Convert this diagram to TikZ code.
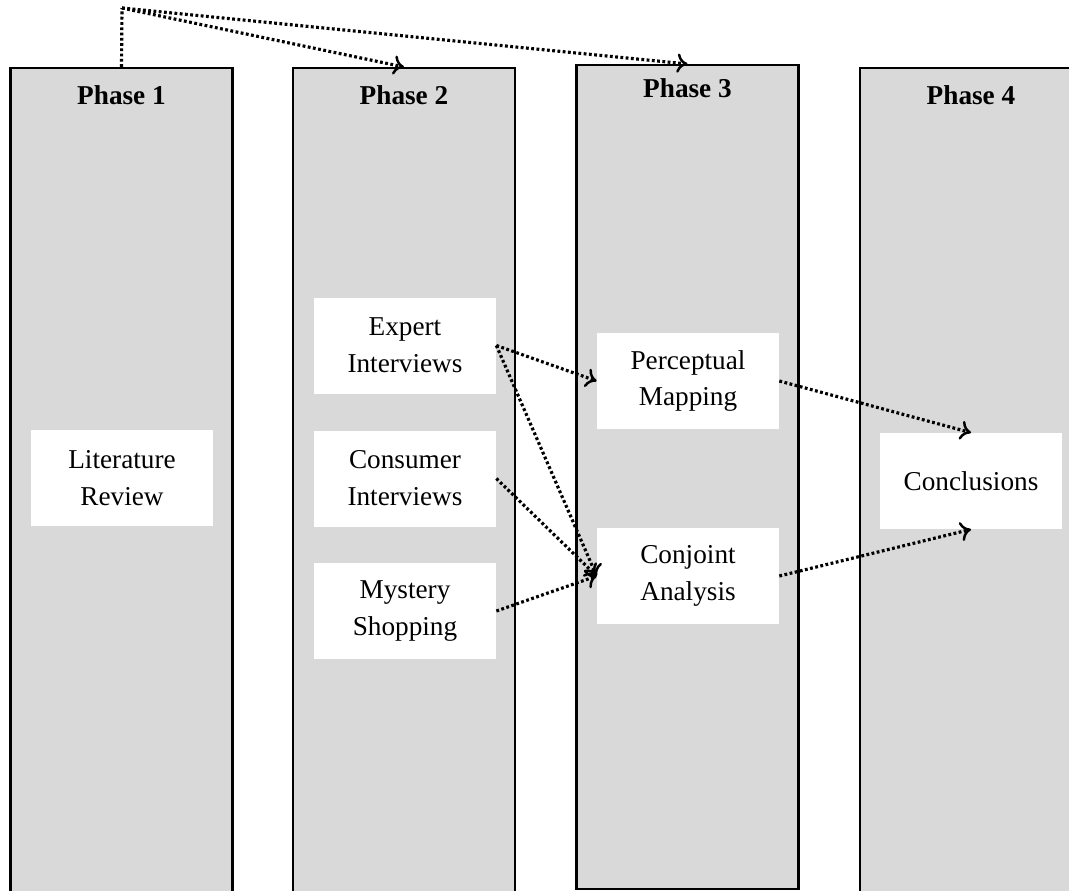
\documentclass[tikz,border=0pt]{standalone}
\usepackage{fontspec}
\setmainfont{Liberation Serif}
\usepackage{tikz}
\usetikzlibrary{arrows.meta}

\definecolor{colgray}{HTML}{D9D9D9}

\tikzset{
  phasecol/.style={draw, line width=1.3pt, fill=colgray, anchor=north,
    minimum width=4.44cm, inner sep=0pt},
  phasetitle/.style={font=\bfseries\fontsize{15.5}{19}\selectfont, inner sep=0pt},
  stepbox/.style={fill=white, minimum width=3.64cm, minimum height=1.92cm,
    align=center, inner sep=0pt, font=\fontsize{15.5}{21}\selectfont},
  flow/.style={line width=1.8pt, dash pattern=on 1.6pt off 1.4pt,
    -{To[length=6pt, width=11pt, line width=1.4pt]}}
}

\begin{document}
\begin{tikzpicture}
    \useasboundingbox (0,0) rectangle (21.38,-17.8);
    \clip (0,0) rectangle (21.38,-17.8);
    % columns
    \node[phasecol, minimum height=16.6cm] (p1) at (2.43,-1.34) {};
    \node[phasecol, minimum height=16.6cm] (p2) at (8.08,-1.34) {};
    \node[phasecol, minimum height=16.48cm] (p3) at (13.75,-1.28) {};
    \node[phasecol, minimum height=16.6cm] (p4) at (19.42,-1.34) {};
    \node[phasetitle] (t1) at (2.43,-1.9) {Phase 1};
    \node[phasetitle] (t2) at (8.08,-1.9) {Phase 2};
    \node[phasetitle] (t3) at (13.75,-1.76) {Phase 3};
    \node[phasetitle] (t4) at (19.42,-1.9) {Phase 4};

    % boxes
    \node[stepbox] (lit) at (2.44,-9.56) {Literature\\Review};
    \node[stepbox] (expert) at (8.1,-6.91) {Expert\\Interviews};
    \node[stepbox] (consumer) at (8.1,-9.57) {Consumer\\Interviews};
    \node[stepbox] (mystery) at (8.1,-12.22) {Mystery\\Shopping};
    \node[stepbox] (percept) at (13.76,-7.62) {Perceptual\\Mapping};
    \node[stepbox] (conjoint) at (13.76,-11.52) {Conjoint\\Analysis};
    \node[stepbox] (concl) at (19.42,-9.62) {Conclusions};

    % arrows
    \coordinate (corner) at (2.44,-0.16);
    \draw[flow, -] (p1.north) -- (corner);
    \draw[flow] (corner) -- (p2.north);
    \draw[flow] (corner) -- (p3.north);
    \draw[flow] (expert.east) -- (percept.west);
    \draw[flow] (expert.east) -- (conjoint.west);
    \draw[flow] (consumer.east) -- (conjoint.west);
    \draw[flow] (mystery.east) -- (conjoint.west);
    \draw[flow] (percept.east) -- (concl.north);
    \draw[flow] (conjoint.east) -- (concl.south);
\end{tikzpicture}
\end{document}
